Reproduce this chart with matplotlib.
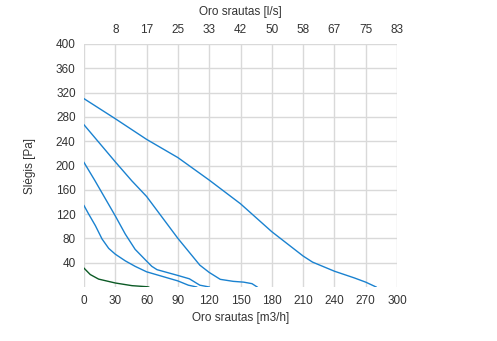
import matplotlib
matplotlib.use("Agg")
import matplotlib.pyplot as plt

plt.rcParams['font.family'] = ['Liberation Sans', 'DejaVu Sans']

# Data (flow m3/h, pressure Pa)
c1_x = [0, 30, 60, 90, 120, 150, 180, 210, 219, 240, 259, 270, 280]
c1_y = [310, 277, 243, 213, 176, 137, 91, 51, 41, 26, 15, 8, 0]
c2_x = [0, 30, 45.7, 60, 90, 111, 120, 130.6, 143, 153, 161, 166]
c2_y = [267, 206, 175, 149, 80, 36, 24, 12.6, 9.3, 8, 5.5, 0]
c3_x = [0, 10.5, 18.9, 30, 39.6, 49, 60, 65, 70, 90, 101, 111, 120]
c3_y = [205, 175, 150, 117, 87, 62, 42.6, 34, 28.5, 19, 13.5, 3, 0]
c4_x = [0, 4.5, 10.9, 17.3, 23.7, 30, 39.6, 49, 60, 90, 100, 108]
c4_y = [134, 120, 101, 79, 63.5, 54, 43, 34, 25, 10, 3, 0]
c5_x = [0, 6, 14, 30, 46, 60, 62]
c5_y = [31, 20.5, 13, 6.6, 2.2, 0.5, 0]

x_ticks = [0, 30, 60, 90, 120, 150, 180, 210, 240, 270, 300]
y_ticks = [40, 80, 120, 160, 200, 240, 280, 320, 360, 400]
top_ticks = [30, 60, 90, 120, 150, 180, 210, 240, 270, 300]
top_labels = ['8', '17', '25', '33', '42', '50', '58', '67', '75', '83']

blue = '#1a82d0'
green = '#0b5a25'

fig = plt.figure(figsize=(4.97, 3.41), dpi=100)
ax = fig.add_axes([84/497, 1-287/341, (397-84)/497, (287-44)/341])

for xs, ys in [(c1_x, c1_y), (c2_x, c2_y), (c3_x, c3_y), (c4_x, c4_y)]:
    ax.plot(xs, ys, color=blue, lw=1.0)
ax.plot(c5_x, c5_y, color=green, lw=1.0)

ax.set_xlim(0, 300)
ax.set_ylim(0, 400)
ax.set_xticks(x_ticks)
ax.set_yticks(y_ticks)
ax.grid(True, color='#d9d9d9', lw=1.0)
ax.set_axisbelow(True)
for s in ax.spines.values():
    s.set_visible(False)
ax.tick_params(length=0, labelsize=8.5, colors='#333333', pad=6)
ax.set_xlabel('Oro srautas [m3/h]', fontsize=8.5, color='#333333', labelpad=3)
ax.set_ylabel('Slėgis [Pa]', fontsize=8.5, color='#333333', labelpad=14)

ax2 = ax.twiny()
ax2.set_xlim(0, 300)
ax2.set_xticks(top_ticks)
ax2.set_xticklabels(top_labels)
for s in ax2.spines.values():
    s.set_visible(False)
ax2.tick_params(length=0, labelsize=8.5, colors='#333333', pad=6)
ax2.set_xlabel('Oro srautas [l/s]', fontsize=8.5, color='#333333', labelpad=6)

fig.savefig('out.png', dpi=100)
